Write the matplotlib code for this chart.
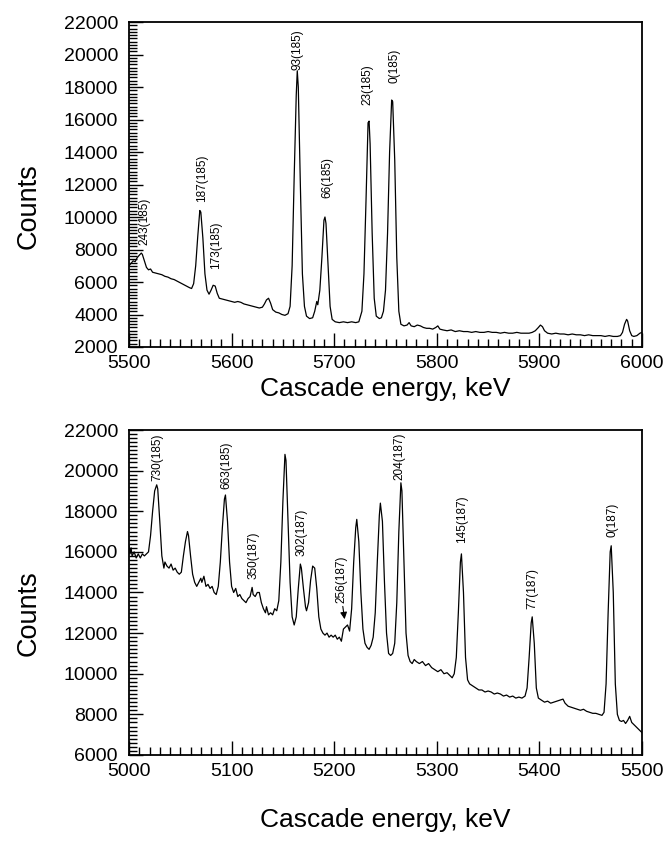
"""Two-panel cascade energy spectra (counts vs keV), drawn with matplotlib."""
import matplotlib
matplotlib.use('Agg')
import matplotlib.pyplot as plt
from matplotlib.ticker import MultipleLocator

# upper panel: 5500-6000 keV
top_energy = [5500, 5502, 5504, 5506, 5508, 5510, 5512, 5513, 5515, 5517, 5519, 5521, 5523, 5526,
              5529, 5532, 5535, 5538, 5541, 5544, 5547, 5550, 5553, 5556, 5559, 5561, 5563, 5565,
              5567, 5569, 5570, 5572, 5574, 5576, 5578, 5580, 5582, 5584, 5586, 5588, 5591, 5594,
              5597, 5600, 5603, 5606, 5609, 5612, 5615, 5618, 5621, 5624, 5627, 5630, 5632, 5634,
              5636, 5638, 5640, 5643, 5646, 5649, 5652, 5655, 5657, 5659, 5661, 5663, 5664, 5665,
              5667, 5669, 5671, 5673, 5676, 5679, 5681, 5683, 5684, 5686, 5688, 5690, 5691, 5692,
              5694, 5696, 5698, 5701, 5705, 5709, 5713, 5717, 5721, 5724, 5727, 5729, 5731, 5733,
              5734, 5735, 5737, 5739, 5741, 5744, 5746, 5748, 5750, 5752, 5754, 5756, 5757, 5759,
              5761, 5763, 5765, 5768, 5771, 5773, 5775, 5778, 5781, 5784, 5787, 5790, 5793, 5796,
              5799, 5801, 5803, 5806, 5810, 5814, 5818, 5822, 5826, 5830, 5834, 5838, 5842, 5846,
              5850, 5854, 5858, 5862, 5866, 5870, 5874, 5878, 5882, 5886, 5890, 5893, 5896, 5899,
              5901, 5903, 5905, 5908, 5912, 5916, 5920, 5924, 5928, 5932, 5936, 5940, 5944, 5948,
              5952, 5956, 5960, 5964, 5968, 5972, 5976, 5979, 5981, 5983, 5985, 5986, 5988, 5990,
              5992, 5995, 5998, 6000]
top_counts = [7000, 7150, 7300, 7250, 7500, 7650, 7780, 7700, 7300, 6900, 6750, 6800, 6600, 6550,
              6500, 6450, 6350, 6300, 6200, 6150, 6050, 5950, 5850, 5750, 5650, 5600, 5900, 7000,
              8800, 10400, 10300, 8700, 6500, 5500, 5250, 5500, 5800, 5750, 5300, 5000, 4950, 4900,
              4850, 4800, 4750, 4800, 4750, 4650, 4600, 4550, 4500, 4450, 4400, 4450, 4650, 4900,
              5000, 4700, 4300, 4150, 4100, 4000, 3950, 4050, 4500, 7000, 12500, 17500, 19000, 18000,
              12000, 6500, 4500, 3900, 3750, 3800, 4200, 4800, 4600, 5500, 7500, 9800, 10000, 9600,
              7000, 4500, 3700, 3550, 3500, 3550, 3500, 3550, 3500, 3550, 4200, 6500, 11000, 15800,
              15900, 14500, 9000, 5000, 3900, 3750, 3800, 4200, 5500, 9000, 14000, 17200, 17100, 13500,
              7500, 4200, 3400, 3300, 3350, 3500, 3300, 3250, 3350, 3300, 3200, 3150, 3150, 3100,
              3200, 3300, 3100, 3050, 3000, 3050, 2950, 3000, 2950, 2950, 2900, 2950, 2900, 2900,
              2950, 2900, 2900, 2850, 2900, 2850, 2850, 2900, 2850, 2850, 2850, 2900, 3000, 3200,
              3350, 3250, 3000, 2850, 2800, 2850, 2800, 2800, 2750, 2800, 2750, 2750, 2700, 2750,
              2700, 2700, 2700, 2650, 2700, 2650, 2650, 2700, 2900, 3400, 3700, 3600, 3000, 2700,
              2650, 2700, 2850, 2900]

top_labels = ['243(185)', '187(185)', '173(185)', '93(185)', '66(185)', '23(185)', '0(185)']
top_label_x = [5515, 5571, 5585, 5664, 5693, 5732, 5759]
top_label_y = [8300, 10900, 6800, 19050, 11200, 16900, 18250]

# lower panel: 5000-5500 keV
bot_energy = [5000, 5001, 5002, 5003, 5005, 5007, 5009, 5011, 5013, 5015, 5017, 5019, 5021, 5023,
              5025, 5027, 5028, 5030, 5032, 5034, 5035, 5037, 5039, 5041, 5043, 5045, 5047, 5049,
              5051, 5053, 5055, 5057, 5058, 5060, 5062, 5064, 5066, 5068, 5070, 5071, 5073, 5075,
              5077, 5079, 5081, 5083, 5085, 5087, 5089, 5091, 5093, 5094, 5096, 5098, 5100, 5102,
              5104, 5106, 5108, 5110, 5112, 5114, 5116, 5118, 5120, 5121, 5123, 5125, 5127, 5129,
              5131, 5133, 5134, 5136, 5138, 5140, 5142, 5144, 5146, 5148, 5150, 5152, 5153, 5155,
              5157, 5159, 5161, 5163, 5165, 5167, 5168, 5170, 5172, 5173, 5175, 5177, 5179, 5181,
              5183, 5185, 5187, 5189, 5191, 5193, 5195, 5197, 5199, 5201, 5203, 5205, 5207, 5209,
              5211, 5213, 5215, 5217, 5219, 5221, 5222, 5224, 5226, 5228, 5230, 5232, 5234, 5236,
              5238, 5240, 5242, 5244, 5245, 5247, 5249, 5251, 5253, 5255, 5257, 5259, 5261, 5263,
              5265, 5266, 5268, 5270, 5272, 5274, 5276, 5278, 5280, 5283, 5286, 5289, 5292, 5295,
              5298, 5301, 5304, 5307, 5310, 5313, 5315, 5317, 5319, 5321, 5323, 5324, 5326, 5328,
              5330, 5332, 5335, 5338, 5341, 5344, 5347, 5350, 5353, 5356, 5359, 5362, 5365, 5368,
              5371, 5374, 5377, 5380, 5383, 5386, 5388, 5390, 5392, 5393, 5395, 5397, 5399, 5402,
              5405, 5408, 5411, 5414, 5417, 5420, 5423, 5425, 5428, 5431, 5434, 5437, 5440, 5443,
              5446, 5449, 5452, 5455, 5458, 5461, 5463, 5465, 5467, 5469, 5470, 5472, 5474, 5476,
              5478, 5480, 5482, 5484, 5486, 5488, 5490, 5492, 5494, 5496, 5498, 5500]
bot_counts = [16300, 15900, 16200, 15800, 16000, 15700, 15900, 15700, 15900, 15800, 15900, 16000, 16800, 18000,
              19000, 19300, 19100, 17500, 15800, 15200, 15500, 15300, 15200, 15400, 15100, 15200, 15000, 14900,
              15000, 15800, 16500, 17000, 16800, 15800, 14900, 14500, 14300, 14500, 14700, 14500, 14800, 14300,
              14400, 14200, 14300, 14000, 13900, 14300, 15500, 17200, 18600, 18800, 17500, 15500, 14300, 14000,
              14200, 13800, 13900, 13700, 13600, 13500, 13700, 13800, 14250, 13900, 13800, 14000, 14000, 13500,
              13200, 13000, 13300, 12900, 13000, 12900, 13200, 13100, 13600, 15500, 18500, 20800, 20500, 17500,
              14500, 12800, 12400, 12800, 14200, 15400, 15200, 14200, 13300, 13100, 13500, 14600, 15300, 15200,
              14200, 12800, 12200, 12000, 11900, 12000, 11800, 11900, 11800, 11900, 11700, 11800, 11600, 12200,
              12300, 12400, 12100, 13200, 15500, 17200, 17600, 16500, 14000, 12200, 11500, 11300, 11200, 11400,
              11800, 13000, 15500, 17800, 18400, 17500, 14500, 12000, 11000, 10900, 11000, 11500, 13500, 17000,
              19400, 19000, 15500, 12000, 10900, 10600, 10500, 10700, 10600, 10500, 10600, 10400, 10500, 10300,
              10200, 10100, 10200, 10000, 10050, 9900, 9800, 10000, 10800, 13000, 15500, 15900, 14000, 10800,
              9700, 9500, 9400, 9300, 9200, 9200, 9100, 9150, 9100, 9000, 9050, 9000, 8900, 8950,
              8850, 8900, 8800, 8850, 8800, 8900, 9300, 10800, 12500, 12800, 11500, 9300, 8800, 8700,
              8600, 8650, 8550, 8600, 8650, 8700, 8750, 8550, 8400, 8350, 8300, 8250, 8200, 8250,
              8150, 8100, 8050, 8050, 8000, 7950, 8100, 9500, 13000, 16000, 16300, 14000, 9500, 8000,
              7700, 7650, 7700, 7550, 7700, 7900, 7600, 7500, 7400, 7300, 7200, 7100]

bot_labels = ['730(185)', '663(185)', '350(187)', '302(187)', '256(187)', '204(187)',
              '145(187)', '77(187)', '0(187)']
bot_label_x = [5028, 5095, 5121, 5168, 5207.5, 5264, 5325, 5393, 5471]
bot_label_y = [19500, 19100, 14650, 15800, 13500, 19550, 16450, 13200, 16750]


def style_axes(ax, xlim, ylim, xlabel_y):
    ax.set_xlim(*xlim)
    ax.set_ylim(*ylim)
    ax.xaxis.set_major_locator(MultipleLocator(100))
    ax.xaxis.set_minor_locator(MultipleLocator(10))
    ax.yaxis.set_major_locator(MultipleLocator(2000))
    ax.yaxis.set_minor_locator(MultipleLocator(200))
    ax.tick_params(which='both', direction='in', top=False, right=False, labelsize=14)
    ax.tick_params(which='major', length=10, width=1.0)
    ax.tick_params(which='minor', length=6, width=1.0)
    ax.tick_params(axis='x', pad=6)
    ax.tick_params(axis='y', pad=8)
    for s in ax.spines.values():
        s.set_linewidth(1.3)
    ax.set_xlabel('Cascade energy, keV', fontsize=19, va='center')
    ax.xaxis.set_label_coords(0.5, xlabel_y)
    ax.set_ylabel('Counts', fontsize=19.5, va='center')
    ax.yaxis.set_label_coords(-0.195, 0.435)


def main():
    plt.rcParams['font.family'] = ['Liberation Sans', 'DejaVu Sans']
    fig = plt.figure(figsize=(6.65, 8.41), dpi=100)
    ax1 = fig.add_axes([0.194, 0.5874, 0.7714, 0.3864])
    ax2 = fig.add_axes([0.194, 0.1023, 0.7714, 0.3864])

    ax1.plot(top_energy, top_counts, color='black', lw=0.9)
    for lab, x, y in zip(top_labels, top_label_x, top_label_y):
        ax1.text(x, y, lab, rotation=90, ha='center', va='bottom', fontsize=8.5)
    style_axes(ax1, (5500, 6000), (2000, 22000), -0.128)

    ax2.plot(bot_energy, bot_counts, color='black', lw=0.9)
    for lab, x, y in zip(bot_labels, bot_label_x, bot_label_y):
        ax2.text(x, y, lab, rotation=90, ha='center', va='bottom', fontsize=8.5)
    # arrow under the 256(187) label
    ax2.annotate('', xy=(5210.5, 12550), xytext=(5208, 13450),
                 arrowprops=dict(arrowstyle='-|>', color='black', lw=0.8, mutation_scale=10))
    style_axes(ax2, (5000, 5500), (6000, 22000), -0.2)

    fig.savefig('out.png', dpi=100)


if __name__ == '__main__':
    main()
